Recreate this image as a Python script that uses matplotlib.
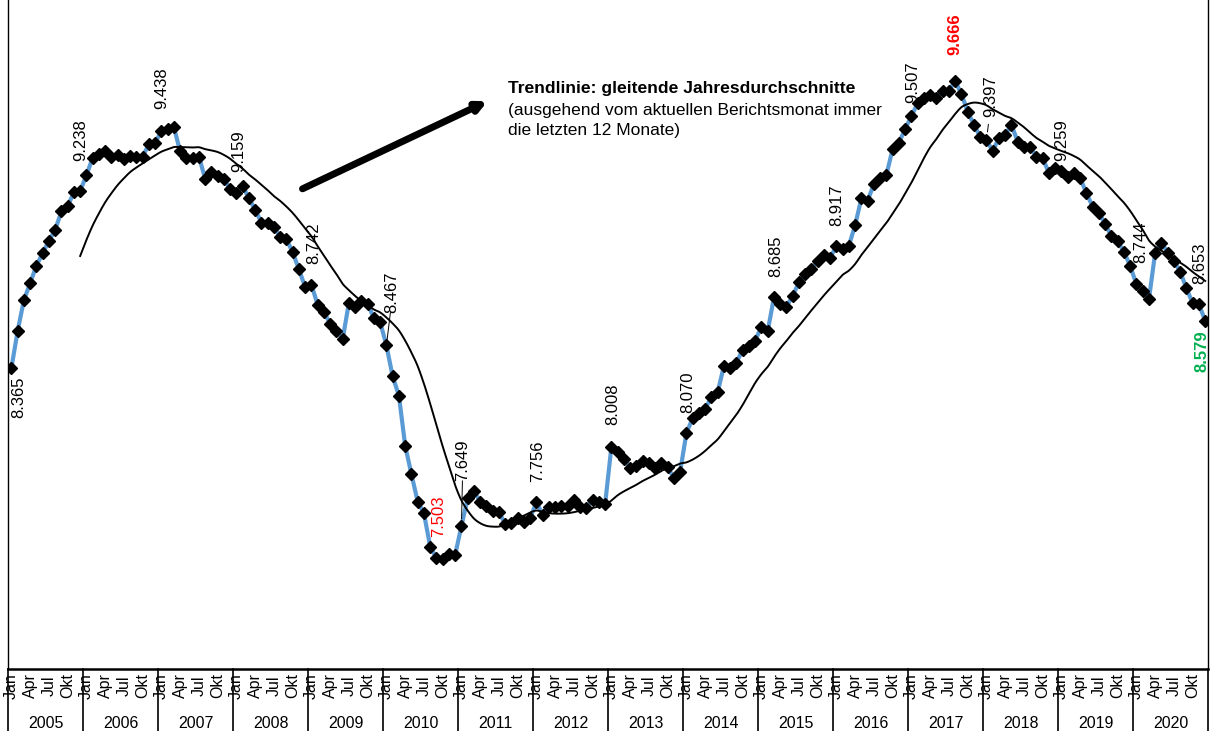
import numpy as np
import pandas as pd
import matplotlib
matplotlib.use("Agg")
import matplotlib.pyplot as plt

plt.rcParams['font.family'] = ['Liberation Sans', 'DejaVu Sans']

years = list(range(2005, 2021))
month_ticks = ["Jan", "Apr", "Jul", "Okt"]

v2005 = [8.365, 8.533, 8.673, 8.749, 8.829, 8.885, 8.941, 8.991, 9.074, 9.099, 9.161, 9.167]
v2006 = [9.238, 9.318, 9.334, 9.350, 9.323, 9.331, 9.311, 9.326, 9.323, 9.323, 9.379, 9.386]
v2007 = [9.438, 9.448, 9.456, 9.346, 9.316, 9.318, 9.323, 9.222, 9.255, 9.235, 9.222, 9.175]
v2008 = [9.159, 9.190, 9.134, 9.081, 9.024, 9.024, 9.003, 8.960, 8.948, 8.889, 8.812, 8.731]
v2009 = [8.742, 8.651, 8.620, 8.564, 8.534, 8.495, 8.661, 8.643, 8.669, 8.655, 8.590, 8.572]
v2010 = [8.467, 8.326, 8.239, 8.012, 7.883, 7.759, 7.706, 7.555, 7.503, 7.500, 7.521, 7.517]
v2011 = [7.649, 7.773, 7.807, 7.759, 7.739, 7.716, 7.710, 7.658, 7.664, 7.686, 7.668, 7.684]
v2012 = [7.756, 7.699, 7.736, 7.736, 7.739, 7.739, 7.767, 7.735, 7.730, 7.768, 7.758, 7.750]
v2013 = [8.008, 7.985, 7.951, 7.913, 7.920, 7.944, 7.936, 7.910, 7.936, 7.915, 7.865, 7.895]
v2014 = [8.070, 8.137, 8.160, 8.178, 8.235, 8.255, 8.374, 8.364, 8.389, 8.447, 8.465, 8.489]
v2015 = [8.552, 8.530, 8.685, 8.654, 8.643, 8.691, 8.753, 8.790, 8.812, 8.851, 8.877, 8.865]
v2016 = [8.917, 8.903, 8.919, 9.013, 9.134, 9.123, 9.199, 9.228, 9.240, 9.358, 9.386, 9.448]
v2017 = [9.507, 9.565, 9.588, 9.603, 9.590, 9.622, 9.622, 9.666, 9.606, 9.527, 9.467, 9.413]
v2018 = [9.397, 9.349, 9.406, 9.421, 9.467, 9.391, 9.365, 9.365, 9.323, 9.316, 9.248, 9.270]
v2019 = [9.259, 9.229, 9.250, 9.225, 9.157, 9.096, 9.069, 9.016, 8.963, 8.938, 8.892, 8.827]
v2020 = [8.744, 8.714, 8.676, 8.887, 8.933, 8.887, 8.851, 8.801, 8.726, 8.658, 8.653, 8.579]

values = (v2005 + v2006 + v2007 + v2008 + v2009 + v2010 + v2011 + v2012 +
          v2013 + v2014 + v2015 + v2016 + v2017 + v2018 + v2019 + v2020)

# labelled points: (month index, text)
label_idx = [0, 12, 24, 36, 48, 60, 68, 72, 84, 96, 108, 122, 132, 144, 151, 156, 168, 180, 190, 191]
label_txt = ["8.365", "9.238", "9.438", "9.159", "8.742", "8.467", "7.503", "7.649", "7.756",
             "8.008", "8.070", "8.685", "8.917", "9.507", "9.666", "9.397", "9.259", "8.744",
             "8.653", "8.579"]

# ---- styling / layout ----
W, H = 1213, 731
fig = plt.figure(figsize=(W / 100, H / 100), dpi=100)
n = len(values)
x = np.arange(n)
ax_left = 8.3 / W
ax_w = 1200 / W
ax_bottom = 62 / H
ax = fig.add_axes([ax_left, ax_bottom, ax_w, 1 - ax_bottom])
ax.set_xlim(-0.5, n - 0.5)
ax.set_ylim(7.0, 7.0 + 669 / 220.6)
ax.set_xticks([])
ax.set_yticks([])
for s in ['top', 'bottom']:
    ax.spines[s].set_visible(False)
for s in ['left', 'right']:
    ax.spines[s].set_linewidth(1.0)

vals = np.array(values)
trend = pd.Series(vals).rolling(12).mean().to_numpy()


def catmull_rom(px, py, steps=10):
    """Smooth line through points (like a spreadsheet 'smoothed line')."""
    px = np.asarray(px, float)
    py = np.asarray(py, float)
    P = np.column_stack([px, py])
    P = np.vstack([P[0], P, P[-1]])
    out = []
    t = np.linspace(0, 1, steps, endpoint=False)
    for k in range(1, len(P) - 2):
        p0, p1, p2, p3 = P[k - 1], P[k], P[k + 1], P[k + 2]
        seg = 0.5 * ((2 * p1)[None, :] + (-p0 + p2)[None, :] * t[:, None]
                     + (2 * p0 - 5 * p1 + 4 * p2 - p3)[None, :] * (t ** 2)[:, None]
                     + (-p0 + 3 * p1 - 3 * p2 + p3)[None, :] * (t ** 3)[:, None])
        out.append(seg)
    out.append(P[-2][None, :])
    out = np.vstack(out)
    return out[:, 0], out[:, 1]


ok = ~np.isnan(trend)
tx, ty = catmull_rom(x[ok], trend[ok])

ax.plot(x, vals, color='#5B9BD5', lw=3.0, zorder=2, solid_joinstyle='round')
ax.plot(x, vals, ls='none', marker='D', ms=5.8, color='black', zorder=3)
ax.plot(tx, ty, color='black', lw=1.4, zorder=4)

offsets = {0: (7, -29), 12: (-6, 35), 24: (0, 43), 36: (2, 42), 48: (2, 42), 60: (5, 53),
           68: (2, 42), 72: (1, 66), 84: (1, 41), 96: (1, 42), 108: (1, 41), 122: (2, 41),
           132: (0, 41), 144: (1, 34), 151: (0, 47), 156: (4, 44), 168: (0, 31), 180: (4, 42),
           190: (1, 41), 191: (-3, -31)}
colors = {68: 'red', 151: 'red', 191: '#00B050'}
bold = {151, 191}
for i, t in zip(label_idx, label_txt):
    dx, dy = offsets[i]
    ax.annotate(t, xy=(i, vals[i]), xytext=(dx, dy), textcoords='offset pixels',
                rotation=90, ha='center', va='center', fontsize=12,
                color=colors.get(i, 'black'),
                fontweight='bold' if i in bold else 'normal', zorder=5)

# leader lines
for i, (dx, dy, sh) in {60: (4, 33, 3), 72: (1, 45, 5), 156: (2, 16, 6)}.items():
    ax.annotate('', xy=(i, vals[i]), xytext=(dx, dy), textcoords='offset pixels',
                arrowprops=dict(arrowstyle='-', lw=0.7, color='black', shrinkA=0, shrinkB=sh))

# ---- category axis (two levels) ----
ax2 = fig.add_axes([ax_left, 0, ax_w, ax_bottom])
ax2.set_xlim(-0.5, n - 0.5)
ax2.set_ylim(0, 62)
ax2.axis('off')
ax2.axhline(62, color='black', lw=1.8, clip_on=False)
for k in range(len(years) + 1):
    ax2.axvline(-0.5 + 12 * k, color='black', lw=1.2, clip_on=False)
for k, yr in enumerate(years):
    for m, lab in enumerate(month_ticks):
        ax2.text(12 * k + 3 * m, 45, lab, rotation=90, ha='center', va='center', fontsize=11.5)
    ax2.text(12 * k + 5.5, 8, str(yr), ha='center', va='center', fontsize=11.5)

# ---- annotation ----
fig.text(508 / W, 1 - 89 / H, "Trendlinie: gleitende Jahresdurchschnitte", fontsize=12.6,
         fontweight='bold', ha='left', va='center')
fig.text(508 / W, 1 - 110 / H, "(ausgehend vom aktuellen Berichtsmonat immer", fontsize=12.5,
         ha='left', va='center')
fig.text(508 / W, 1 - 130 / H, "die letzten 12 Monate)", fontsize=12.5, ha='left', va='center')
fig.add_artist(matplotlib.patches.FancyArrowPatch(
    (300 / W, 1 - 190 / H), (490 / W, 1 - 100 / H), transform=fig.transFigure,
    arrowstyle='-|>', mutation_scale=14, lw=5, color='black'))

fig.savefig('out.png', dpi=100)
